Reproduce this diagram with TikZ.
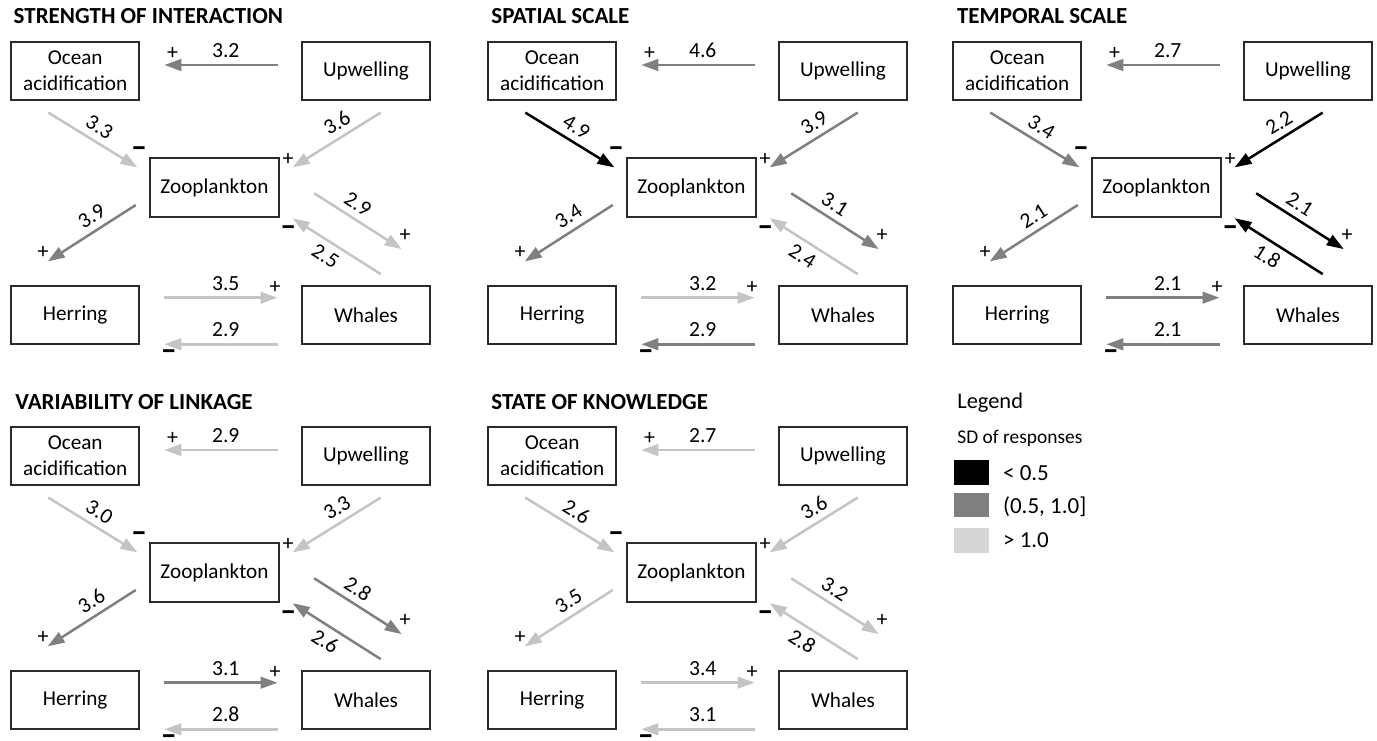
\documentclass[tikz,border=0pt]{standalone}
\usepackage{fontspec}
\setmainfont{Carlito}
\usetikzlibrary{arrows.meta,calc}
\definecolor{cmid}{HTML}{808080}
\definecolor{clt}{HTML}{C4C4C4}
\definecolor{legmid}{HTML}{7F7F7F}
\definecolor{leglt}{HTML}{D6D6D6}
\definecolor{boxline}{HTML}{2A2A2A}
\tikzset{
 box/.style={draw=boxline, line width=0.95pt, minimum width=64.15pt, minimum height=29.15pt, inner sep=0pt, align=center, font=\fontsize{10.6}{12.8}\selectfont},
 link/.style={line width=1.25pt, -{Triangle[length=8.5pt,width=5.8pt]}},
 lab/.style={font=\fontsize{10.8}{12}\selectfont, inner sep=3pt, text=black},
 sgn/.style={font=\fontsize{11}{12}\selectfont, inner sep=0pt, text=black},
 ttl/.style={anchor=base west, inner sep=0pt, font=\bfseries\fontsize{11.5}{13}\selectfont},
 kb/.style={color=black},
 km/.style={color=cmid},
 kl/.style={color=clt},
 sq/.style={minimum width=17.35pt, minimum height=12.4pt, inner sep=0pt, draw=none},
 legtxt/.style={anchor=base west, inner sep=0pt, font=\fontsize{11.5}{13}\selectfont}
}
\newcommand\mns{\scalebox{1.45}[1.5]{\textbf{–}}}
\newcommand\pnodes[3]{%
 \node[box] (#1oa) at (75.2+#2,70.8+#3) {Ocean\\acidification};
 \node[box] (#1up) at (366+#2,70.8+#3) {Upwelling};
 \node[box] (#1z) at (214.5+#2,187.5+#3) {Zooplankton};
 \node[box] (#1h) at (75.2+#2,315.2+#3) {Herring};
 \node[box] (#1w) at (366+#2,315.2+#3) {Whales};
}
\newcommand\aTop[3]{\draw[link,#2] ($(#1up.west)+(-23.4,-5.8)$) -- node[lab,above,pos=0.457]{#3} ($(#1oa.east)+(24,-5.8)$) node[sgn,xshift=4.2pt,yshift=5.85pt]{+};}
\newcommand\aOZ[3]{\draw[link,#2] ($(#1oa.south)+(-26.9,11.7)$) -- node[lab,sloped,above,pos=0.49]{#3} ($(#1z.north west)+(-12,10)$) node[sgn,xshift=0.85pt,yshift=7.5pt]{\mns};}
\newcommand\aUZ[3]{\draw[link,#2] ($(#1up.south)+(14.7,11.7)$) -- node[lab,sloped,above,pos=0.41]{#3} ($(#1z.north east)+(13,10)$) node[sgn,xshift=-2.2pt,yshift=4.15pt]{+};}
\newcommand\aZH[3]{\draw[link,#2] ($(#1z.west)+(-13.6,17.5)$) -- node[lab,sloped,above,pos=0.415]{#3} ($(#1h.north)+(-27.5,-23.7)$) node[sgn,xshift=-2.35pt,yshift=4.5pt]{+};}
\newcommand\aZW[3]{\draw[link,#2] ($(#1z.east)+(34.6,5.8)$) -- node[lab,sloped,above,pos=0.41]{#3} ($(#1w.north)+(35.7,-36)$) node[sgn,xshift=1.65pt,yshift=6.65pt]{+};}
\newcommand\aWZ[3]{\draw[link,#2] ($(#1w.north)+(14.7,-11)$) -- node[lab,sloped,below,pos=0.54]{#3} ($(#1z.south east)+(13,0.6)$) node[sgn,xshift=-2.2pt,yshift=-6.3pt]{\mns};}
\newcommand\aHW[3]{\draw[link,#2] ($(#1h.east)+(23.4,-17.5)$) -- node[lab,above,pos=0.545]{#3} ($(#1w.west)+(-23.4,-17.5)$) node[sgn,xshift=-1.15pt,yshift=5.2pt]{+};}
\newcommand\aWH[3]{\draw[link,#2] ($(#1w.west)+(-23.4,29.1)$) -- node[lab,above,pos=0.457]{#3} ($(#1h.east)+(24,29.1)$) node[sgn,xshift=2.2pt,yshift=-5.6pt]{\mns};}
\begin{document}
\begin{tikzpicture}[x=0.5pt,y=-0.5pt]
\fill[white] (0,0) rectangle (1377,740);
\useasboundingbox (0,0) rectangle (1377,740);
% titles
\node[ttl] (t1) at (13.3,23.3) {STRENGTH OF INTERACTION};
\node[ttl] (t2) at (491,23.3) {SPATIAL SCALE};
\node[ttl] (t3) at (956.7,23.3) {TEMPORAL SCALE};
\node[ttl] (t4) at (15,409) {VARIABILITY OF LINKAGE};
\node[ttl] (t5) at (491,409) {STATE OF KNOWLEDGE};
% panel 1
\pnodes{a}{0}{0}
\aTop{a}{km}{3.2}
\aOZ{a}{kl}{3.3}
\aUZ{a}{kl}{3.6}
\aZH{a}{km}{3.9}
\aZW{a}{kl}{2.9}
\aWZ{a}{kl}{2.5}
\aHW{a}{kl}{3.5}
\aWH{a}{kl}{2.9}
% panel 2
\pnodes{b}{477}{0}
\aTop{b}{km}{4.6}
\aOZ{b}{kb}{4.9}
\aUZ{b}{km}{3.9}
\aZH{b}{km}{3.4}
\aZW{b}{km}{3.1}
\aWZ{b}{kl}{2.4}
\aHW{b}{kl}{3.2}
\aWH{b}{km}{2.9}
% panel 3
\pnodes{c}{942}{0}
\aTop{c}{km}{2.7}
\aOZ{c}{km}{3.4}
\aUZ{c}{kb}{2.2}
\aZH{c}{km}{2.1}
\aZW{c}{kb}{2.1}
\aWZ{c}{kb}{1.8}
\aHW{c}{km}{2.1}
\aWH{c}{km}{2.1}
% panel 4
\pnodes{d}{0}{385}
\aTop{d}{kl}{2.9}
\aOZ{d}{kl}{3.0}
\aUZ{d}{kl}{3.3}
\aZH{d}{km}{3.6}
\aZW{d}{km}{2.8}
\aWZ{d}{km}{2.6}
\aHW{d}{km}{3.1}
\aWH{d}{kl}{2.8}
% panel 5
\pnodes{e}{477}{385}
\aTop{e}{kl}{2.7}
\aOZ{e}{kl}{2.6}
\aUZ{e}{kl}{3.6}
\aZH{e}{kl}{3.5}
\aZW{e}{kl}{3.2}
\aWZ{e}{kl}{2.8}
\aHW{e}{kl}{3.4}
\aWH{e}{kl}{3.1}
% legend
\node[anchor=base west, inner sep=0pt, font=\fontsize{11.2}{13}\selectfont] (legt) at (957,408) {Legend};
\node[anchor=base west, inner sep=0pt, font=\fontsize{9.7}{11}\selectfont] (legsd) at (957,443) {SD of responses};
\node[sq, fill=black] (sq1) at (971.3,472.5) {};
\node[sq, fill=legmid] (sq2) at (971.3,505) {};
\node[sq, fill=leglt] (sq3) at (971.3,540.5) {};
\node[legtxt] (l1) at (1002.7,480) {< 0.5};
\node[legtxt] (l2) at (1002.7,513) {(0.5, 1.0]};
\node[legtxt] (l3) at (1002.7,547) {> 1.0};
\end{tikzpicture}
\end{document}
